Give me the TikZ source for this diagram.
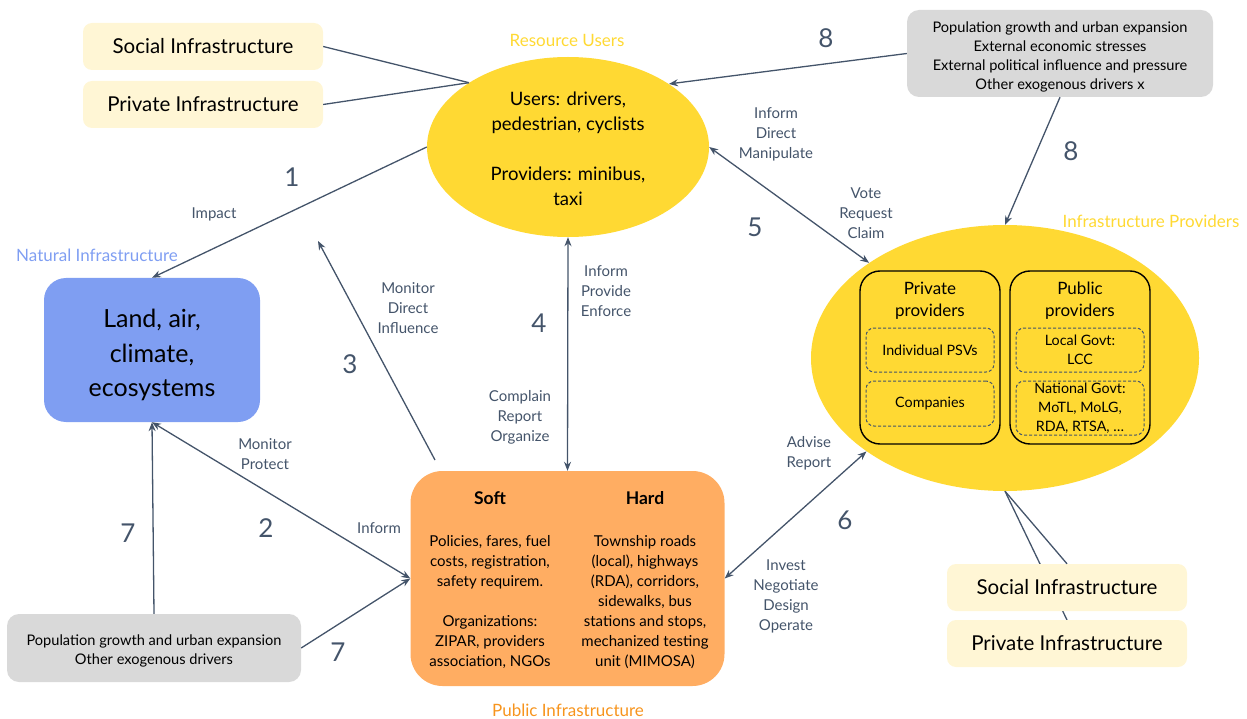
\documentclass[tikz,border=0pt]{standalone}
\usepackage{fontspec}
\setmainfont{Lato}
\usetikzlibrary{shapes.geometric,arrows.meta}
\definecolor{ink}{HTML}{44546A}
\definecolor{sun}{HTML}{FFD933}
\definecolor{cream}{HTML}{FFF6D5}
\definecolor{sky}{HTML}{7F9EF2}
\definecolor{peach}{HTML}{FFAD62}
\definecolor{tangerine}{HTML}{F7941D}
\definecolor{fog}{HTML}{D9D9D9}
\newcommand{\fs}[2]{\fontsize{#1}{#2}\selectfont}
\tikzset{
  creambox/.style={fill=cream, rounded corners=9pt, minimum width=240pt, minimum height=47pt, inner sep=0pt, font=\fs{20.5}{24}},
  drivers/.style={fill=fog, rounded corners=12pt, inner sep=0pt},
  plain/.style={align=center, inner sep=0pt},
  lbl/.style={text=ink, align=center, font=\fs{15}{20}, inner sep=0pt},
  num/.style={text=ink, font=\fs{26}{30}, inner sep=0pt},
  title/.style={font=\fs{17}{20}, inner sep=0pt},
  conn/.style={draw=ink, line width=1.3pt},
  tip/.tip={Stealth[length=9pt,width=7pt]},
  arr/.style={conn, -tip},
  darr/.style={conn, tip-tip},
  provbox/.style={draw=black, line width=1.4pt, rounded corners=20pt, minimum width=140pt, minimum height=173pt, inner sep=0pt},
  unit/.style={draw=ink, dash pattern=on 3pt off 2pt, line width=1pt, rounded corners=8pt, minimum width=128pt, inner sep=0pt, align=center, font=\fs{14.3}{19}},
}
\begin{document}
\begin{tikzpicture}[x=1pt,y=-1pt]
\useasboundingbox (0,0) rectangle (1247,719);

% ---- resource users ----
\node[title, text=sun] (ruT) at (567,40) {Resource Users};
\node[ellipse, fill=sun, minimum width=282pt, minimum height=180pt, inner sep=0pt] (users) at (568,147) {};
\node[plain, font=\fs{18.5}{25}] (usersTxt) at (568,149)
  {Users: drivers,\\pedestrian, cyclists\\[25pt]Providers: minibus,\\taxi};

\node[creambox] (soc1) at (203,46.5) {Social Infrastructure};
\node[creambox] (priv1) at (203,104.5) {Private Infrastructure};
\draw[conn] (soc1.east) -- (users.147.4);
\draw[conn] (priv1.east) -- (users.147.4);

% ---- external drivers (top) ----
\node[drivers, minimum width=306pt, minimum height=87pt] (ext8) at (1060,53.5) {};
\node[plain, font=\fs{14.6}{19}] (ext8Txt) at (1060,57)
  {Population growth and urban expansion\\External economic stresses\\External political influence and pressure\\Other exogenous drivers x};

% ---- natural infrastructure ----
\node[title, text=sky] (natT) at (97,255) {Natural Infrastructure};
\node[fill=sky, rounded corners=22pt, minimum width=216pt, minimum height=144pt, inner sep=0pt] (nat) at (152,350) {};
\node[plain, font=\fs{25}{34.5}] (natTxt) at (152,355) {Land, air,\\climate,\\ecosystems};

% ---- public infrastructure ----
\node[fill=peach, rounded corners=32pt, minimum width=314pt, minimum height=215pt, inner sep=0pt] (pub) at (567.5,578.5) {};
\node[font=\bfseries\fs{17.5}{20}, inner sep=0pt] (softT) at (490,498) {Soft};
\node[font=\bfseries\fs{17.5}{20}, inner sep=0pt] (hardT) at (645,498) {Hard};
\node[plain, font=\fs{15}{20}] (soft) at (490,602)
  {Policies, fares, fuel\\costs, registration,\\safety requirem.\\[20pt]Organizations:\\ZIPAR, providers\\association, NGOs};
\node[plain, font=\fs{15}{20}] (hard) at (645,602)
  {Township roads\\(local), highways\\(RDA), corridors,\\sidewalks, bus\\stations and stops,\\mechanized testing\\unit (MIMOSA)};
\node[title, text=tangerine] (pubT) at (568,710) {Public Infrastructure};

% ---- infrastructure providers ----
\node[title, text=sun] (provT) at (1151,221) {Infrastructure Providers};
\node[ellipse, fill=sun, minimum width=388pt, minimum height=266pt, inner sep=0pt] (prov) at (1005,358) {};
\node[provbox] (privp) at (930,357.5) {};
\node[provbox] (pubp) at (1080,357.5) {};
\node[plain, font=\fs{17}{22}] (privpT) at (930,301) {Private\\providers};
\node[plain, font=\fs{17}{22}] (pubpT) at (1080,301) {Public\\providers};
\node[unit, minimum height=44pt] (psv) at (930,350) {Individual PSVs};
\node[unit, minimum height=45pt] (comp) at (930,403.5) {Companies};
\node[unit, minimum height=44pt] (lgov) at (1080,350) {Local Govt:\\LCC};
\node[unit, minimum height=54pt] (ngov) at (1080,408) {National Govt:\\MoTL, MoLG,\\RDA, RTSA, \dots};

% ---- bottom-right infrastructure ----
\draw[conn] (prov.south) -- (1067,620) coordinate (privTop);
\node[creambox] (soc2) at (1067,587.5) {Social Infrastructure};
\node[creambox] (priv2) at (1067,643.5) {Private Infrastructure};
\draw[conn] (prov.south) -- (soc2.north);

% ---- external drivers (bottom) ----
\node[drivers, minimum width=294pt, minimum height=68pt] (ext7) at (154,648) {};
\node[plain, font=\fs{14.6}{19}] (ext7Txt) at (154,651)
  {Population growth and urban expansion\\Other exogenous drivers};

% ---- connectors ----
% 1: users -> natural
\draw[arr] (users.west) -- (nat.north);
\node[num] (n1) at (292,177) {1};
\node[lbl] (l1) at (214,214) {Impact};

% 2: natural <-> public
\draw[darr] (nat.south) -- (pub.west);
\node[num] (n2) at (266,528) {2};
\node[lbl] (l2a) at (265,454) {Monitor\\Protect};
\node[lbl] (l2b) at (379,528) {Inform};

% 3: public -> up-left (free end)
\coordinate (c3s) at (435,460);
\coordinate (c3e) at (318,241);
\draw[arr] (c3s) -- (c3e);
\node[num] (n3) at (350,364) {3};
\node[lbl] (l3) at (408,308) {Monitor\\Direct\\Influence};

% 4: users <-> public
\draw[darr] (users.south) -- (pub.north);
\node[num] (n4) at (539,323) {4};
\node[lbl] (l4a) at (606,291) {Inform\\Provide\\Enforce};
\node[lbl] (l4b) at (520,417) {Complain\\Report\\Organize};

% 5: users <-> providers
\draw[darr] (users.east) -- (prov.145.9);
\node[num] (n5) at (755,227) {5};
\node[lbl] (l5a) at (776,134) {Inform\\Direct\\Manipulate};
\node[lbl] (l5b) at (866,213) {Vote\\Request\\Claim};

% 6: public <-> providers
\draw[darr] (pub.east) -- (prov.214.9);
\node[num] (n6) at (845,520) {6};
\node[lbl] (l6a) at (809,453) {Advise\\Report};
\node[lbl] (l6b) at (786,596) {Invest\\Negotiate\\Design\\Operate};

% 7: exogenous drivers -> natural, public
\draw[arr] (ext7.north) -- (nat.south);
\draw[arr] (ext7.east) -- (pub.west);
\node[num] (n7a) at (128,533) {7};
\node[num] (n7b) at (338,652) {7};

% 8: exogenous drivers -> users, providers
\draw[arr] (ext8.west) -- (users.32.5);
\draw[arr] (ext8.south) -- (prov.north);
\node[num] (n8a) at (826,38) {8};
\node[num] (n8b) at (1071,151) {8};
\end{tikzpicture}
\end{document}
